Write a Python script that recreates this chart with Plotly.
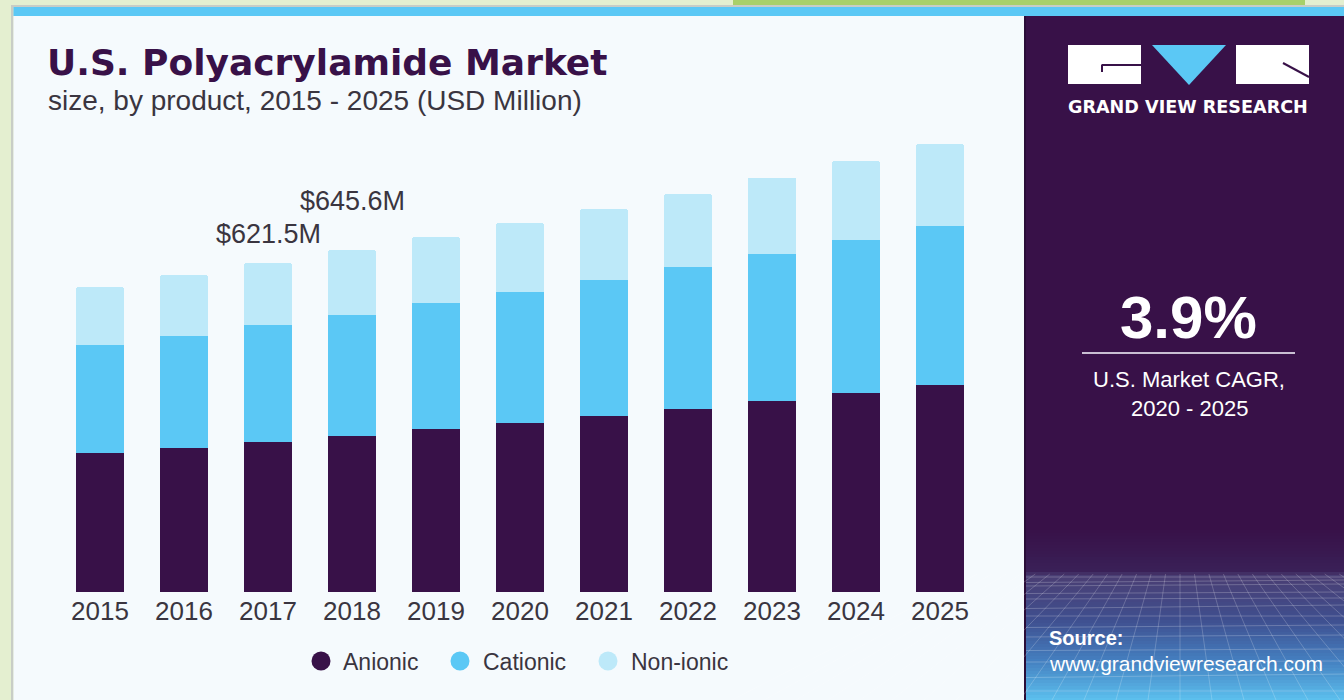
import plotly.graph_objects as go

# ---------------- data ----------------
years = ["2015", "2016", "2017", "2018", "2019", "2020", "2021", "2022", "2023", "2024", "2025"]
anionic = [262.0, 272.6, 284.2, 294.5, 307.4, 318.7, 332.5, 345.4, 360.9, 375.4, 390.5]
cationic = [204.6, 211.6, 220.6, 228.4, 238.0, 248.6, 256.9, 268.8, 277.7, 289.6, 301.5]
nonionic = [109.0, 114.7, 116.7, 122.7, 124.7, 129.2, 134.1, 137.9, 144.2, 149.3, 154.4]
series_names = ["Anionic", "Cationic", "Non-ionic"]
callout_years = ["2017", "2018"]
callout_labels = ["$621.5M", "$645.6M"]

title_text = "U.S. Polyacrylamide Market"
subtitle_text = "size, by product, 2015 - 2025 (USD Million)"
cagr_value = "3.9%"
cagr_label = ["U.S. Market CAGR,", "2020 - 2025"]

# ---------------- style ----------------
PURPLE = "#381148"
CYAN = "#5bc8f5"
PALE = "#bde9f9"
PANEL = "#f5fafd"
TEXT = "#3a3540"
FONT = "Liberation Sans, Arial, sans-serif"

W, H = 1344, 700
ML, MR, MT, MB = 58, 362, 130, 108
PW, PH = W - ML - MR, H - MT - MB


def px(x):
    return (x - ML) / PW


def py(y):
    return (H - MB - y) / PH


fig = go.Figure()
colors = [PURPLE, CYAN, PALE]
for name, vals, col in zip(series_names, [anionic, cationic, nonionic], colors):
    fig.add_trace(go.Bar(
        x=years, y=vals, name=name, marker=dict(color=col, line=dict(width=0)),
        showlegend=False, hoverinfo="x+y+name"))

totals = [a + c + n for a, c, n in zip(anionic, cationic, nonionic)]
ymax = PH / (329.0 / 621.5)

shapes = []


def rect(x0, y0, x1, y1, color, layer="below", line_color=None, lw=0):
    shapes.append(dict(type="rect", xref="paper", yref="paper",
                       x0=px(x0), x1=px(x1), y0=py(y1), y1=py(y0),
                       fillcolor=color, line=dict(width=lw, color=line_color or color),
                       layer=layer))


def line(x0, y0, x1, y1, color, w=1, layer="below", opacity=1.0):
    shapes.append(dict(type="line", xref="paper", yref="paper",
                       x0=px(x0), x1=px(x1), y0=py(y0), y1=py(y1),
                       line=dict(color=color, width=w), layer=layer, opacity=opacity))


# frame
rect(0, 0, W, 5, "#e4efd0")
rect(733, 0, 1305, 5, "#a8d06a")
rect(11, 5, W, 7, "#c8cdc6")
rect(11, 5, 13.5, H, "#c8cdc6")
rect(13.5, 7, W, 16, CYAN)
rect(13.5, 16, 1025, H, PANEL)
# right panel
rect(1025, 16, W, H, PURPLE)
rect(1024, 16, 1026, H, "#2a0d38")


# gradient region at bottom of right panel
def hex2rgb(h):
    h = h.lstrip("#")
    return tuple(int(h[i:i + 2], 16) for i in (0, 2, 4))


stops = [(530, "#381148"), (573, "#3a2158"), (574, "#4a3d72"), (620, "#3f4f8f"),
         (660, "#447ebf"), (700, "#5cc0ee")]
y = 530
step = 3
while y < H:
    yc = y + step / 2
    for (ya, ca), (yb, cb) in zip(stops[:-1], stops[1:]):
        if ya <= yc <= yb:
            t = (yc - ya) / (yb - ya)
            a, b = hex2rgb(ca), hex2rgb(cb)
            c = tuple(round(a[i] + (b[i] - a[i]) * t) for i in range(3))
            break
    rect(1026, y, W, min(y + step + 0.6, H), "rgb(%d,%d,%d)" % c)
    y += step

# perspective mesh
hy = [577, 581, 586, 592, 599, 607, 616, 626, 637, 649, 662, 676, 691]
for i, yy in enumerate(hy):
    line(1026, yy + (i % 2) * 1.5, W, yy - (i % 3) * 1.0, "#ffffff", w=1, opacity=0.22)
vx, vy = 1180, 470
for k in range(-14, 15):
    xb = 1180 + k * 32
    xt = vx + (xb - vx) * (574 - vy) / (H - vy)
    line(xt, 574, xb, H, "#ffffff", w=1, opacity=0.2)

# logo
rect(1068, 45, 1141, 84, "#ffffff", layer="above")
line(1102, 65, 1141, 65, PURPLE, w=2, layer="above")
line(1102, 64.5, 1102, 72, PURPLE, w=2, layer="above")
shapes.append(dict(type="path", xref="paper", yref="paper",
                   path="M %f %f L %f %f L %f %f Z" % (px(1152), py(45), px(1226), py(45), px(1189), py(85)),
                   fillcolor=CYAN, line=dict(width=0), layer="above"))
rect(1236, 45, 1309, 84, "#ffffff", layer="above")
line(1283, 63, 1309, 77, PURPLE, w=2, layer="above")

# CAGR divider
line(1082, 353, 1295, 353, "#c9bfd3", w=2, layer="above")

# legend circles
leg_cx = [321, 460, 608]
leg_tx = [341, 481, 629]
for cx, col in zip(leg_cx, colors):
    shapes.append(dict(type="circle", xref="paper", yref="paper",
                       x0=px(cx - 9.5), x1=px(cx + 9.5), y0=py(661 + 9.5), y1=py(661 - 9.5),
                       fillcolor=col, line=dict(width=0), layer="above"))

annotations = []


def text(x, y, s, size, color=TEXT, family=FONT, xanchor="left", bold=False):
    annotations.append(dict(xref="paper", yref="paper", x=px(x), y=py(y), text=("<b>%s</b>" % s) if bold else s,
                            showarrow=False, xanchor=xanchor, yanchor="middle",
                            font=dict(size=size, color=color, family=family)))


text(45, 62, title_text, 36, PURPLE, "DejaVu Sans, sans-serif", bold=True)
text(46, 101, subtitle_text, 28, TEXT)
text(1188, 317, cagr_value, 60, "#ffffff", bold=True, xanchor="center")
text(1189, 379, cagr_label[0], 22, "#ffffff", xanchor="center")
text(1189, 408, cagr_label[1], 22, "#ffffff", xanchor="center")
text(1188, 107, "GRAND VIEW RESEARCH", 17.6, "#ffffff", "DejaVu Sans, sans-serif", bold=True, xanchor="center")
text(1047, 638, "Source:", 20, "#ffffff", bold=True)
text(1047, 663, "www.grandviewresearch.com", 21, "#ffffff")
for tx, name in zip(leg_tx, series_names):
    text(tx, 662, name, 23, TEXT)

# value call-outs (category axis positions given by index)
shifts = [29, 49]
for yr, lab, sh in zip(callout_years, callout_labels, shifts):
    i = years.index(yr)
    annotations.append(dict(x=i, y=totals[i], xref="x", yref="y", text=lab, showarrow=False,
                            yanchor="middle", xanchor="center", yshift=sh,
                            font=dict(size=27, color=TEXT, family=FONT)))

fig.update_layout(
    width=W, height=H, autosize=False,
    margin=dict(l=ML, r=MR, t=MT, b=MB, pad=0),
    paper_bgcolor="#e4efd0", plot_bgcolor="rgba(0,0,0,0)",
    barmode="stack", bargap=1 - 48.5 / 84, barcornerradius=3,
    shapes=shapes, annotations=annotations,
    showlegend=False,
    xaxis=dict(type="category", range=[-0.5, 10.5], showgrid=False, zeroline=False, showline=False,
               ticks="", tickfont=dict(size=26, color=TEXT, family=FONT), ticklabelstandoff=1,
               fixedrange=True),
    yaxis=dict(range=[0, ymax], visible=False, fixedrange=True),
    font=dict(family=FONT),
)

fig.write_html("out.html", config={"displayModeBar": False})
